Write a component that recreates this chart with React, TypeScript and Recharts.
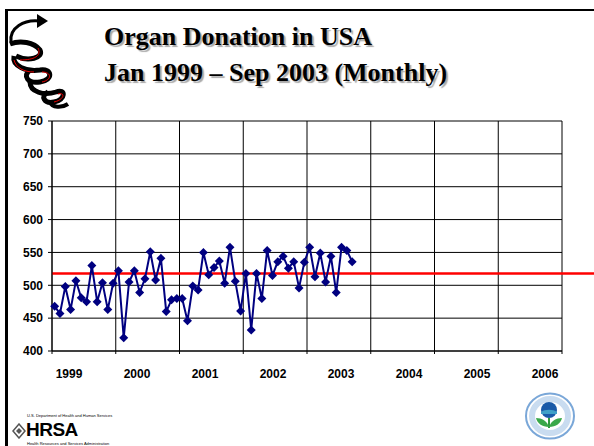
import { LineChart, Line, XAxis, YAxis, CartesianGrid, ReferenceLine } from 'recharts'

// monthly organ donors, Jan 1999 .. Sep 2003
const donations = [
  468, 457, 498, 463, 507, 481, 475, 530, 475, 504, 463, 503,
  522, 420, 505, 522, 489, 510, 551, 508, 541, 460, 478, 480,
  480, 446, 499, 493, 550, 516, 527, 537, 503, 558, 506, 461,
  518, 432, 518, 480, 553, 515, 536, 544, 526, 536, 496, 535,
  558, 513, 549, 505, 544, 489, 558, 553, 536,
]
const years = [1999, 2000, 2001, 2002, 2003, 2004, 2005, 2006]
const yTicks = [400, 450, 500, 550, 600, 650, 700, 750]
const monthTicks = [0, 12, 24, 36, 48, 60, 72, 84, 96]
const average = 518

// m = month index (centre of month), yr = same moment as a fractional year
const data = donations.map((v, i) => ({ m: i + 0.5, yr: 1999 + (i + 0.5) / 12, v }))

const axisFont = { fill: '#000', fontSize: 12, fontWeight: 'bold', fontFamily: 'Liberation Sans, Arial' }

const Diamond = (props: any) => {
  const { cx, cy, index } = props
  if (cx == null || cy == null) return <g key={index} />
  const r = 4.5
  return (
    <path
      key={index}
      d={`M${cx},${cy - r}L${cx + r},${cy}L${cx},${cy + r}L${cx - r},${cy}Z`}
      fill="#000080"
    />
  )
}

function Ribbon() {
  return (
    <svg width={70} height={100} style={{ position: 'absolute', left: 6, top: 10 }}>
      <path d="M5,32 C3,18 18,9 34,11" stroke="#000" strokeWidth={3} fill="none" />
      <path d="M31,4 L42,11 L31,18 Z" fill="#000" />
      <path d="M4,34 C14,30 28,32 34,40 C38,48 22,52 10,46" stroke="#000" strokeWidth={5} fill="none" />
      <path d="M8,46 C6,56 20,62 34,60 C46,58 48,70 34,72 C22,74 16,66 24,60" stroke="#000" strokeWidth={5} fill="none" />
      <path d="M24,72 C24,82 38,86 50,82 C60,78 60,90 48,92 C38,94 34,86 42,82" stroke="#000" strokeWidth={5} fill="none" />
      <path d="M44,92 C46,98 56,98 62,94" stroke="#000" strokeWidth={4} fill="none" />
      <path d="M32,38 C36,46 28,50 14,50" stroke="#e00" strokeWidth={1} fill="none" />
      <path d="M36,62 C46,62 46,70 36,72" stroke="#e00" strokeWidth={1} fill="none" />
      <path d="M52,84 C60,82 58,90 48,92" stroke="#e00" strokeWidth={1} fill="none" />
      <path d="M8,50 C10,58 18,62 28,62" stroke="#e00" strokeWidth={1} fill="none" />
    </svg>
  )
}

function Hrsa() {
  return (
    <div style={{ position: 'absolute', left: 12, top: 413, width: 110, height: 33, overflow: 'hidden' }}>
      <div style={{ position: 'absolute', left: 15, top: 0, fontSize: 4, lineHeight: '5px', fontFamily: 'Liberation Sans Narrow, Arial', whiteSpace: 'nowrap' }}>
        U.S. Department of Health and Human Services
      </div>
      <svg width={14} height={16} style={{ position: 'absolute', left: 0, top: 10 }}>
        <path d="M7,1 L13,8 L7,15 L1,8 Z" fill="none" stroke="#555" strokeWidth={1.5} />
        <path d="M7,5 L10,8 L7,11 L4,8 Z" fill="#555" />
      </svg>
      <div style={{ position: 'absolute', left: 14, top: 6, fontSize: 19, fontWeight: 900, fontFamily: 'Liberation Sans, Arial', letterSpacing: -0.5, lineHeight: '21px' }}>
        HRSA
      </div>
      <div style={{ position: 'absolute', left: 15, top: 28, fontSize: 4, lineHeight: '5px', fontFamily: 'Liberation Sans, Arial', whiteSpace: 'nowrap' }}>
        Health Resources and Services Administration
      </div>
    </div>
  )
}

function EpaSeal() {
  return (
    <svg width={52} height={50} style={{ position: 'absolute', left: 524, top: 392 }}>
      <ellipse cx={26} cy={24} rx={24} ry={22.5} fill="#fff" stroke="#7aa7d8" strokeWidth={2} />
      <ellipse cx={26} cy={24} rx={18} ry={17} fill="none" stroke="#c9dcf0" strokeWidth={6} />
      <circle cx={25} cy={18} r={8} fill="#1a5aa8" />
      <path d="M17,20 C21,17 29,17 33,20 L33,22 L17,22 Z" fill="#3fa0c8" />
      <path d="M25,26 L25,36" stroke="#2f9a3e" strokeWidth={2} />
      <path d="M25,35 C18,35 13,31 12,26 C18,26 23,29 25,35 Z" fill="#3aa84a" />
      <path d="M25,35 C32,35 37,31 38,26 C32,26 27,29 25,35 Z" fill="#3aa84a" />
    </svg>
  )
}

export default function App() {
  return (
    <div
      style={{
        position: 'absolute',
        left: 0,
        top: 0,
        width: 594,
        height: 446,
        background: '#fff',
        overflow: 'hidden',
      }}
    >
      <div style={{ position: 'absolute', left: 5, top: 9, width: 600, height: 2, background: '#000' }} />
      <div style={{ position: 'absolute', left: 5, top: 9, width: 3, height: 440, background: '#000' }} />
      <Ribbon />
      <div
        style={{
          position: 'absolute',
          left: 104,
          top: 19,
          fontFamily: '"Liberation Serif", "Times New Roman", serif',
          fontWeight: 'bold',
          fontSize: 26,
          lineHeight: '36px',
          color: '#000',
          textShadow: '2px 2px 1px #aaa',
          whiteSpace: 'nowrap',
        }}
      >
        <div>Organ Donation in USA</div>
        <div>Jan 1999 – Sep 2003 (Monthly)</div>
      </div>

      <div style={{ position: 'absolute', left: 0, top: 0 }}>
        <LineChart
          width={594}
          height={446}
          data={data}
          margin={{ top: 121, right: 32, left: 7, bottom: 65 }}
        >
          <CartesianGrid xAxisId="m" stroke="#000" strokeWidth={1} />
          <XAxis
            xAxisId="m"
            dataKey="m"
            type="number"
            domain={[0, 96]}
            ticks={monthTicks}
            tickFormatter={() => ''}
            height={5}
            tickSize={3}
            axisLine={{ stroke: '#000' }}
            tickLine={{ stroke: '#000' }}
          />
          <XAxis
            xAxisId="y"
            dataKey="yr"
            type="number"
            domain={[1998.75, 2006.25]}
            allowDataOverflow
            ticks={years}
            interval={0}
            height={25}
            axisLine={false}
            tickLine={false}
            tickSize={0}
            tickMargin={13}
            tick={axisFont}
          />
          <YAxis
            type="number"
            domain={[400, 750]}
            ticks={yTicks}
            width={45}
            tickSize={4}
            tickMargin={5}
            axisLine={{ stroke: '#000' }}
            tickLine={{ stroke: '#000' }}
            tick={axisFont}
          />
          <ReferenceLine
            xAxisId="m"
            segment={[{ x: 0, y: average }, { x: 110, y: average }]}
            stroke="#ff0000"
            strokeWidth={2.5}
            ifOverflow="visible"
          />
          {/* invisible series so the year label axis gets a scale */}
          <Line
            xAxisId="y"
            dataKey="v"
            stroke="none"
            dot={false}
            activeDot={false}
            legendType="none"
            isAnimationActive={false}
          />
          <Line
            xAxisId="m"
            dataKey="v"
            stroke="#000080"
            strokeWidth={2}
            dot={Diamond}
            activeDot={false}
            isAnimationActive={false}
          />
        </LineChart>
      </div>
      <Hrsa />
      <EpaSeal />
    </div>
  )
}
